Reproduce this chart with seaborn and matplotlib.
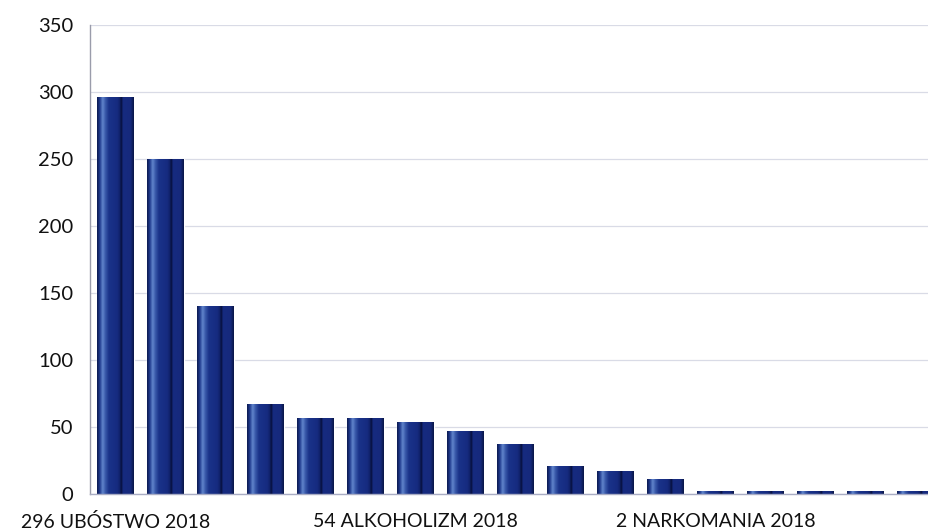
import numpy as np
import pandas as pd
import matplotlib
matplotlib.use("Agg")
import matplotlib.pyplot as plt
import seaborn as sns
from matplotlib.colors import LinearSegmentedColormap

# ---- data ----
categories = ["296 UBÓSTWO 2018", "k2", "k3", "k4", "k5", "k6",
              "54 ALKOHOLIZM 2018", "k8", "k9", "k10", "k11", "k12",
              "2 NARKOMANIA 2018", "k14", "k15", "k16", "k17"]
values = [296, 250, 140, 67, 57, 57, 54, 47, 37, 21, 17, 11, 2, 2, 2, 2, 2]
shown_labels = ["296 UBÓSTWO 2018", "54 ALKOHOLIZM 2018", "2 NARKOMANIA 2018"]
yticks = [0, 50, 100, 150, 200, 250, 300, 350]

df = pd.DataFrame({"kategoria": categories, "liczba": values})

sns.set_theme(style="white")
plt.rcParams["font.family"] = ["Lato", "DejaVu Sans"]

fig = plt.figure(figsize=(9.29, 5.31), dpi=100)
ax = fig.add_axes([90/929, 1 - 494/531, (929-90)/929, (494-25)/531])

sns.barplot(data=df, x="kategoria", y="liczba", color="#172b82",
            width=0.73, ax=ax, saturation=1)

# bar shading (horizontal gradient clipped to each bar)
cmap = LinearSegmentedColormap.from_list("bar", [
    (0.00, "#0c1b52"), (0.07, "#1f3a8e"), (0.15, "#6286cc"),
    (0.22, "#3a5aab"), (0.32, "#1a3389"), (0.55, "#162b80"),
    (0.62, "#10226a"), (0.66, "#070f3a"), (0.71, "#162b80"),
    (0.92, "#16297c"), (1.00, "#0a1748")])
grad = np.linspace(0, 1, 80).reshape(1, -1)
for p in ax.patches:
    x0, y0 = p.get_x(), p.get_y()
    w, h = p.get_width(), p.get_height()
    if h <= 0:
        continue
    im = ax.imshow(grad, cmap=cmap, aspect="auto",
                   extent=[x0, x0 + w, y0, y0 + h], zorder=p.get_zorder() + 0.1,
                   interpolation="bilinear")
    im.set_clip_path(p)

ax.set_xlim(-0.51, 16.27)
ax.set_ylim(0, 350)
ax.set_yticks(yticks)
ax.set_yticklabels([str(v) for v in yticks])
ax.set_xticks(range(len(categories)))
ax.set_xticklabels([c if c in shown_labels else "" for c in categories])
ax.set_xlabel("")
ax.set_ylabel("")

ax.yaxis.grid(True, color="#d9dbe6", linewidth=0.9)
ax.set_axisbelow(True)
ax.tick_params(axis="both", length=0, colors="#111111")
ax.tick_params(axis="y", pad=12, labelsize=14.5)
ax.tick_params(axis="x", pad=14, labelsize=14)

for s in ["top", "right"]:
    ax.spines[s].set_visible(False)
ax.spines["left"].set_color("#9a9cab")
ax.spines["left"].set_linewidth(1.0)
ax.spines["bottom"].set_color("#a9adc4")
ax.spines["bottom"].set_linewidth(1.0)

fig.savefig("out.png", dpi=100)
